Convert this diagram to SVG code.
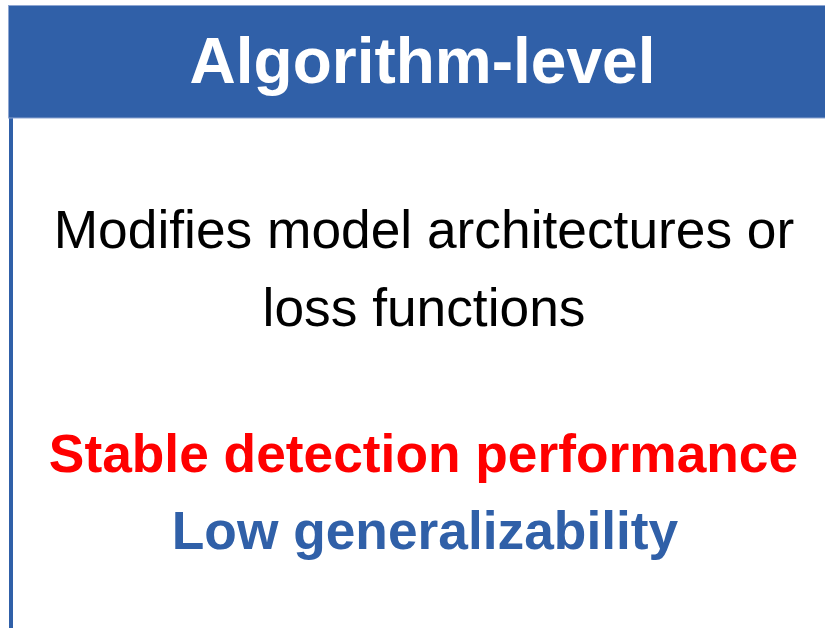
<svg xmlns="http://www.w3.org/2000/svg" width="825" height="628" viewBox="0 0 825 628">
  <style>
    .hdr { font-family: "Liberation Sans", Arial, sans-serif; font-weight: bold; font-size: 64px; fill: #ffffff; text-anchor: middle; }
    .body { font-family: "Liberation Sans", Arial, sans-serif; font-size: 53.3px; fill: #000000; text-anchor: middle; }
    .pro { font-family: "Liberation Sans", Arial, sans-serif; font-weight: bold; font-size: 53.3px; fill: #ff0000; text-anchor: middle; }
    .con { font-family: "Liberation Sans", Arial, sans-serif; font-weight: bold; font-size: 53.3px; fill: #3060a8; text-anchor: middle; }
  </style>
  <rect width="825" height="628" fill="#ffffff"/>
  <g id="panel">
    <!-- left border of the panel -->
    <rect x="9" y="117" width="4" height="511" fill="#3060a8"/>
    <!-- title bar -->
    <rect x="8.5" y="5.5" width="820" height="112.5" fill="#3060a8" stroke="#8ea6d2" stroke-width="1"/>
    <text class="hdr" x="422.5" y="83">Algorithm-level</text>
  </g>
  <g id="description">
    <text class="body" x="424" y="248">Modifies model architectures or</text>
    <text class="body" x="424" y="326">loss functions</text>
  </g>
  <g id="assessment">
    <text class="pro" x="423.5" y="472">Stable detection performance</text>
    <text class="con" x="425" y="549">Low generalizability</text>
  </g>
</svg>
